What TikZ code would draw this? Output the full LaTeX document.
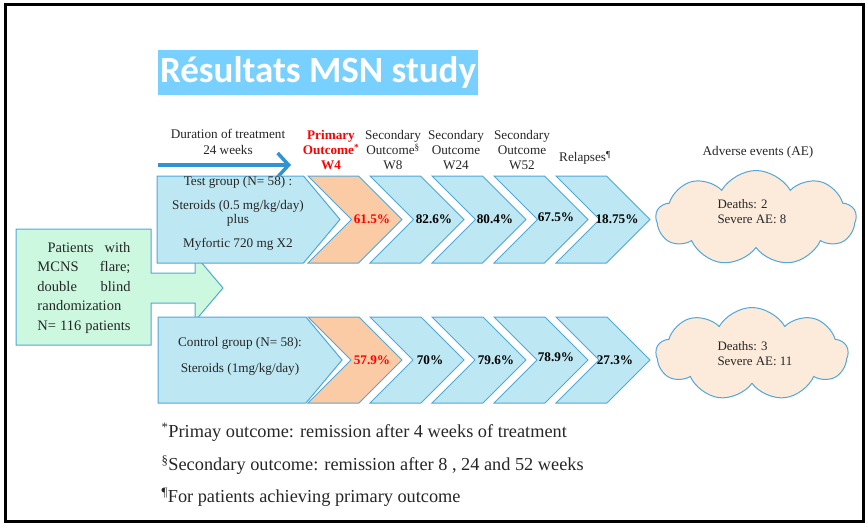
\documentclass[tikz,border=0pt]{standalone}
\usepackage{fontspec}
\setmainfont{Liberation Serif}
\newfontfamily\titlefont{Carlito}
\usetikzlibrary{shapes.symbols, arrows.meta, positioning}
\definecolor{edgeblue}{HTML}{4FA8D8}
\definecolor{cyanfill}{HTML}{BDE7F2}
\definecolor{peachfill}{HTML}{FBCBA6}
\definecolor{mintfill}{HTML}{CCF8E0}
\definecolor{cloudfill}{HTML}{FCEADB}
\definecolor{titleblue}{HTML}{77D0FD}
\definecolor{durblue}{HTML}{3193D2}
\definecolor{darktext}{HTML}{262626}

\begin{document}
\begin{tikzpicture}[x=1pt, y=-1pt, node distance=62pt]
\tikzstyle{grp} = [signal, signal to=east, signal pointer angle=100, draw=edgeblue, line width=1pt, fill=cyanfill, minimum width=183pt, minimum height=87pt, inner sep=0pt]
\tikzstyle{chev} = [signal, signal from=west, signal to=east, signal pointer angle=90, draw=edgeblue, line width=1pt, fill=cyanfill, minimum width=94pt, minimum height=87pt, inner sep=0pt]
\tikzstyle{val} = [font=\fontsize{13.2}{14}\selectfont\bfseries]
\tikzstyle{head} = [align=center, text=darktext, font=\fontsize{13.2}{15}\selectfont]
\tikzstyle{ae} = [cloud, cloud puffs=9, cloud puff arc=120, aspect=2.1, draw=edgeblue, line width=1pt, fill=cloudfill, minimum width=200pt, minimum height=95pt]
\tikzstyle{note} = [anchor=west, text=darktext, font=\fontsize{18.3}{20}\selectfont]

\useasboundingbox (0,0) rectangle (868,528);
\draw[line width=3.5pt] (5.5,4.5) rectangle (863.5,521.5);

% title
\node (title) [fill=titleblue, text=white, minimum width=320pt, minimum height=45pt, inner sep=0pt, font=\titlefont\fontsize{37}{37}\selectfont\bfseries] at (318,72) {Résultats MSN study};

% patients, behind the two groups
\draw[draw=edgeblue, line width=1pt, fill=mintfill] (16,229) -- (151,229) -- (151,273) -- (195,273) -- (195,255) -- (223,288) -- (195,321) -- (195,303) -- (151,303) -- (151,345) -- (16,345) -- cycle;
\node (patients) [align=left, text=darktext, font=\fontsize{14.5}{19.5}\selectfont] at (84,288) {\makebox[93pt][s]{\hspace{10pt}Patients with}\\\makebox[93pt][s]{MCNS flare;}\\\makebox[93pt][s]{double blind}\\\makebox[93pt][l]{randomization}\\\makebox[93pt][s]{N= 116 patients}};

% headers
\coordinate (durstart) at (158,165);
\coordinate (durend) at (291,165);
\draw[durblue, line width=4pt, -{Straight Barb[length=11pt, width=24pt, line width=3.5pt]}] (durstart) -- (durend);
\node (duration) [head, font=\fontsize{13.2}{16}\selectfont] at (228,142) {Duration of treatment\\24 weeks};
\node (hprim) [head, text=red, font=\fontsize{13.2}{15}\selectfont\bfseries] at (331,150) {Primary\\Outcome\textsuperscript{*}\\W4};
\node (hw8) [head] at (393,150) {Secondary\\Outcome\textsuperscript{§}\\W8};
\node (hw24) [head] at (456,150) {Secondary\\Outcome\\W24};
\node (hw52) [head] at (522,150) {Secondary\\Outcome\\W52};
\node (hrel) [head] at (585,158) {Relapses\textsuperscript{¶}};
\node (hae) [head] at (758,152) {Adverse events (AE)};

% test group
\node (test) [grp] at (230.25,219.5) {};
\node (testtxt) [head, font=\fontsize{13.2}{13.5}\selectfont] at (238,213.5) {Test group (N= 58) :\\[10.5pt]Steroids (0.5 mg/kg/day)\\plus\\[10.5pt]Myfortic 720 mg X2};
\node (t4) [chev, fill=peachfill] at (355,219.5) {};
\node (t8) [chev, right of=t4] {};
\node (t24) [chev, right of=t8] {};
\node (t52) [chev, right of=t24] {};
\node (trel) [chev, right of=t52] {};
\node [val, text=red] at ([xshift=17pt]t4.center) {61.5\%};
\node [val] at ([xshift=17pt]t8.center) {82.6\%};
\node [val] at ([xshift=16pt]t24.center) {80.4\%};
\node [val] at ([xshift=15pt,yshift=2pt]t52.center) {67.5\%};
\node [val] at ([xshift=14pt]trel.center) {18.75\%};
\node (ae1) [ae] at (756,218) {};
\node (ae1txt) [align=left, text=darktext, font=\fontsize{12.9}{15}\selectfont, anchor=west] at (714,212) {Deaths: 2\\Severe AE: 8};

% control group
\node (ctrl) [grp, minimum width=184pt, minimum height=86pt] at (232,360) {};
\node (ctrltxt) [head, font=\fontsize{13.2}{13.5}\selectfont] at (240,356) {Control group (N= 58):\\[12.5pt]Steroids (1mg/kg/day)};
\node (c4) [chev, fill=peachfill, minimum height=86pt] at (355,360) {};
\node (c8) [chev, minimum height=86pt, right of=c4] {};
\node (c24) [chev, minimum height=86pt, right of=c8] {};
\node (c52) [chev, minimum height=86pt, right of=c24] {};
\node (crel) [chev, minimum height=86pt, right of=c52] {};
\node [val, text=red] at ([xshift=17pt]c4.center) {57.9\%};
\node [val] at ([xshift=13pt]c8.center) {70\%};
\node [val] at ([xshift=17pt]c24.center) {79.6\%};
\node [val] at ([xshift=15pt,yshift=3pt]c52.center) {78.9\%};
\node [val] at ([xshift=12pt]crel.center) {27.3\%};
\node (ae2) [ae, minimum width=192pt, minimum height=93pt] at (752,354) {};
\node (ae2txt) [align=left, text=darktext, font=\fontsize{12.9}{15}\selectfont, anchor=west] at (714,354) {Deaths: 3\\Severe AE: 11};

% footnotes
\node (n1) [note] at (158,432) {\textsuperscript{*}Primay outcome: remission after 4 weeks of treatment};
\node (n2) [note] at (158,465) {\textsuperscript{§}Secondary outcome: remission after 8 , 24 and 52 weeks};
\node (n3) [note] at (158,497) {\textsuperscript{¶}For patients achieving primary outcome};

\end{tikzpicture}
\end{document}
